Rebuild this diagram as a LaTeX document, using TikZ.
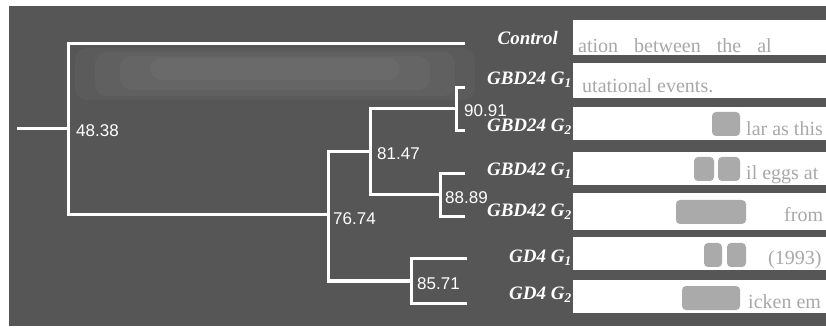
\documentclass[tikz,border=0pt]{standalone}
\usepackage{fontspec}
\setmainfont{Liberation Serif}
\newfontfamily\numfont{Liberation Sans}
\definecolor{panel}{HTML}{565656}
\definecolor{faint}{HTML}{A8A8A8}
\definecolor{smudge}{HTML}{8E8E8E}
\begin{document}
\begin{tikzpicture}[x=1pt,y=-1pt,
  branch/.style={draw=white, line width=3pt, line join=miter},
  num/.style={text=white, inner sep=0pt, anchor=west, font=\numfont\fontsize{17}{18}\selectfont},
  leaf/.style={text=white, inner sep=0pt, anchor=east, font=\bfseries\itshape\fontsize{19}{20}\selectfont},
  ghost/.style={text=faint, inner sep=0pt, anchor=base west, font=\fontsize{20}{22}\selectfont},
  blot/.style={fill=smudge, opacity=0.75, rounded corners=4pt},
  cloud/.style={fill=white, opacity=0.035, rounded corners=12pt}]
\useasboundingbox (0,0) rectangle (826,328);
\fill[white] (0,0) rectangle (826,328);
\fill[panel] (9,6) rectangle (826,326);
% cloudy lighter band
\fill[cloud] (75,48) rectangle (475,100);
\fill[cloud] (95,52) rectangle (455,96);
\fill[cloud] (120,56) rectangle (430,90);
\fill[cloud] (150,58) rectangle (400,80);
% right strips
\foreach \a/\b in {20/55, 63/98, 107/140, 152/185, 193/230, 237/270, 280/313}
  \fill[white] (573,\a) rectangle (826,\b);
\begin{scope}
\clip (573,0) rectangle (826,328);
\node[ghost] (g1) at (578,53) {ation\hspace{16pt}between\hspace{16pt}the\hspace{16pt}al};
\node[ghost] (g2) at (582,93) {utational events.};
\fill[blot] (712,112) rectangle (740,136);
\node[ghost] (g3) at (746,136) {lar as this};
\fill[blot] (694,157) rectangle (714,181);
\fill[blot] (718,157) rectangle (740,181);
\node[ghost] (g4) at (746,180) {il eggs at};
\fill[blot] (676,200) rectangle (746,224);
\node[ghost] (g5) at (784,222) {from};
\fill[blot] (704,243) rectangle (722,267);
\fill[blot] (727,243) rectangle (746,267);
\node[ghost] (g6) at (768,265) {(1993)};
\fill[blot] (682,286) rectangle (740,310);
\node[ghost] (g7) at (748,308) {icken em};
\end{scope}
% junctions and leaf ends
\coordinate (r0) at (17,129);
\coordinate (j1) at (68,129);
\coordinate (j2) at (328,215);
\coordinate (j3) at (370,152);
\coordinate (j4) at (456,109);
\coordinate (j5) at (440,195);
\coordinate (j6) at (411,281);
\coordinate (lc) at (465,44);
\coordinate (l1) at (465,88);
\coordinate (l2) at (465,131);
\coordinate (l3) at (465,174);
\coordinate (l4) at (465,217);
\coordinate (l5) at (467,259);
\coordinate (l6) at (467,303);
% tree
\draw[branch] (r0) -- (j1);
\draw[branch] (lc) -| (j1) |- (j2);
\draw[branch] (j3) -| (j2) |- (j6);
\draw[branch] (j4) -| (j3) |- (j5);
\draw[branch] (l1) -| (j4) |- (l2);
\draw[branch] (l3) -| (j5) |- (l4);
\draw[branch] (l5) -| (j6) |- (l6);
% similarity values
\node[num] (n1) at (76,131) {48.38};
\node[num] (n2) at (333,219) {76.74};
\node[num] (n3) at (377,154) {81.47};
\node[num] (n4) at (464,111) {90.91};
\node[num] (n5) at (445,198) {88.89};
\node[num] (n6) at (417,284) {85.71};
% leaf labels
\node[leaf] (tc) at (558,38) {Control};
\node[leaf] (t1) at (572,80) {GBD24 G\textsubscript{1}};
\node[leaf] (t2) at (572,127) {GBD24 G\textsubscript{2}};
\node[leaf] (t3) at (572,171) {GBD42 G\textsubscript{1}};
\node[leaf] (t4) at (572,212) {GBD42 G\textsubscript{2}};
\node[leaf] (t5) at (572,258) {GD4 G\textsubscript{1}};
\node[leaf] (t6) at (572,295) {GD4 G\textsubscript{2}};
\end{tikzpicture}
\end{document}
